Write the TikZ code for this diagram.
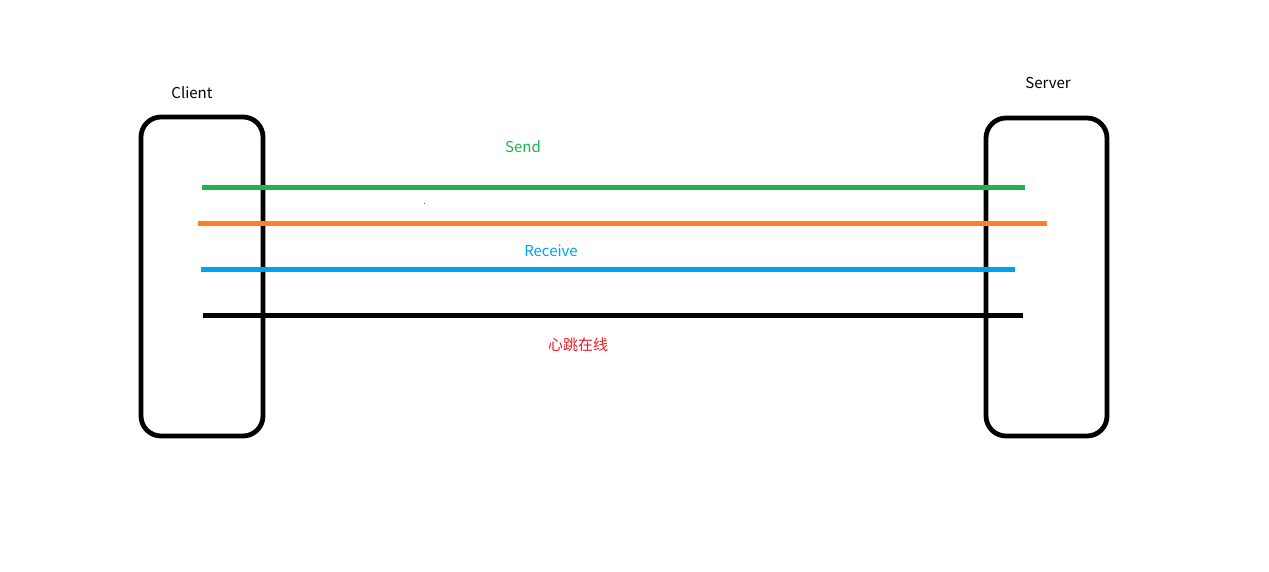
\documentclass[tikz,border=0pt]{standalone}
\usepackage{fontspec}
\setmainfont{Noto Sans CJK SC}
\definecolor{pgreen}{HTML}{22B14C}
\definecolor{porange}{HTML}{FF7F27}
\definecolor{pblue}{HTML}{00A2E8}
\definecolor{pred}{HTML}{ED1C24}
\begin{document}
\begin{tikzpicture}[x=1pt,y=-1pt,
  box/.style={draw=black,line width=4.8pt,rounded corners=20pt},
  wire/.style={line width=5pt},
  lab/.style={font=\fontsize{15}{18}\selectfont,inner sep=0pt}]
\useasboundingbox (0,0) rectangle (1269,571);
\draw[box] (141,117) rectangle (263,436);
\draw[box] (986,118) rectangle (1107,436);
\node[lab] (client) at (192,93) {Client};
\node[lab] (server) at (1048,83) {Server};
\coordinate (g1) at (202,187); \coordinate (g2) at (1025,187);
\coordinate (o1) at (198,223); \coordinate (o2) at (1047,223);
\coordinate (b1) at (201,269); \coordinate (b2) at (1015,269);
\coordinate (k1) at (203,315); \coordinate (k2) at (1023,315);
\draw[wire,pgreen] (g1) -- (g2);
\draw[wire,porange] (o1) -- (o2);
\draw[wire,pblue] (b1) -- (b2);
\draw[wire,black] (k1) -- (k2);
\node[lab,text=pgreen] (send) at (523,147) {Send};
\node[lab,text=pblue] (recv) at (551,251) {Receive};
\node[lab,text=pred] (hb) at (578,345) {心跳在线};
\fill[black!70] (423.5,202.5) rectangle (425,204);
\end{tikzpicture}
\end{document}
